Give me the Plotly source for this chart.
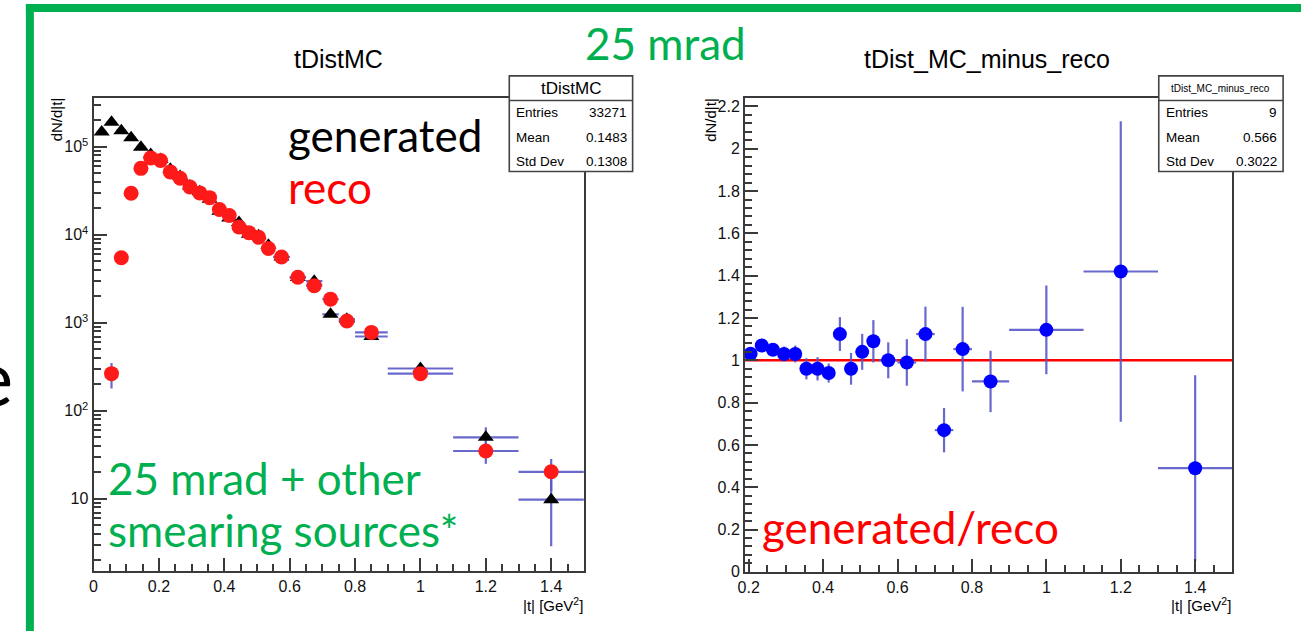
import plotly.graph_objects as go

W, H = 1301, 640

# ---------------- data ----------------
t_centers = [0.025, 0.055, 0.085, 0.115, 0.145, 0.175, 0.205, 0.235, 0.265, 0.295,
             0.325, 0.355, 0.385, 0.415, 0.445, 0.475, 0.505, 0.535, 0.575, 0.625,
             0.675, 0.725, 0.775, 0.85, 1.0, 1.2, 1.4]
t_halfwidth = [0.015, 0.015, 0.015, 0.015, 0.015, 0.015, 0.015, 0.015, 0.015, 0.015,
               0.015, 0.015, 0.015, 0.015, 0.015, 0.015, 0.015, 0.015, 0.025, 0.025,
               0.025, 0.025, 0.025, 0.05, 0.1, 0.1, 0.1]
generated = [148000, 190000, 153000, 127000, 99000, 82000, 72000, 55600, 46200, 36000,
             30900, 25400, 18600, 15600, 13800, 10200, 9800, 7600, 5600, 3270,
             2980, 1250, 1100, 700, 303, 50, 9.8]
generated_err = [0, 0, 0, 0, 0, 0, 0, 0, 0, 0,
                 0, 0, 0, 0, 0, 0, 0, 0, 0, 0,
                 0, 0, 0, 0, 0, 15, 6.9]
reco = [None, 265, 5500, 29700, 57000, 75000, 70000, 52000, 44000, 35000,
        30000, 26500, 19400, 16600, 12300, 10600, 9400, 7000, 5600, 3300,
        2650, 1860, 1050, 780, 265, 35, 20.3]
reco_err = [0, 85, 0, 0, 0, 0, 0, 0, 0, 0,
            0, 0, 0, 0, 0, 0, 0, 0, 0, 0,
            0, 0, 0, 0, 0, 10, 8]

ratio_x = [0.205, 0.235, 0.265, 0.295, 0.325, 0.355, 0.385, 0.415, 0.445, 0.475,
           0.505, 0.535, 0.575, 0.625, 0.675, 0.725, 0.775, 0.85, 1.0, 1.2, 1.4]
ratio_halfwidth = [0.015, 0.015, 0.015, 0.015, 0.015, 0.015, 0.015, 0.015, 0.015, 0.015,
                   0.015, 0.015, 0.025, 0.025, 0.025, 0.025, 0.025, 0.05, 0.1, 0.1, 0.1]
ratio = [1.031, 1.07, 1.05, 1.03, 1.03, 0.96, 0.96, 0.94, 1.124, 0.96,
         1.04, 1.09, 1.0, 0.99, 1.124, 0.67, 1.053, 0.90, 1.144, 1.42, 0.49]
ratio_err = [0.02, 0.025, 0.025, 0.035, 0.04, 0.05, 0.055, 0.045, 0.08, 0.075,
             0.085, 0.1, 0.085, 0.11, 0.13, 0.105, 0.2, 0.145, 0.21, 0.71, 0.44]
ref_level = 1.0

left_ticks = [0, 0.2, 0.4, 0.6, 0.8, 1.0, 1.2, 1.4]
left_tick_text = ["0", "0.2", "0.4", "0.6", "0.8", "1", "1.2", "1.4"]
log_ticks = [10, 100, 1000, 10000, 100000]
log_tick_text = ["10", "10<sup>2</sup>", "10<sup>3</sup>", "10<sup>4</sup>", "10<sup>5</sup>"]
log_minor = [m * 10 ** e for e in range(0, 6) for m in range(2, 10)]

stats_left = [("Entries", "33271"), ("Mean", "0.1483"), ("Std Dev", "0.1308")]
stats_right = [("Entries", "9"), ("Mean", "0.566"), ("Std Dev", "0.3022")]

# ---------------- helpers ----------------
def px(x):
    return x / W

def py(y):
    return 1 - y / H

ERR_COL = "rgba(88,88,200,0.9)"
AX_COL = "#3a3a3a"
ROOT_FONT = "Liberation Sans"
SLIDE_FONT = "Lato"

fig = go.Figure()

# left plot
fig.add_trace(go.Scatter(
    x=t_centers, y=generated, mode="markers", xaxis="x", yaxis="y",
    marker=dict(symbol="triangle-up", size=14, color="black"),
    error_x=dict(type="data", array=t_halfwidth, color=ERR_COL, thickness=2.2, width=0),
    error_y=dict(type="data", array=generated_err, color=ERR_COL, thickness=2.2, width=0),
    showlegend=False))
fig.add_trace(go.Scatter(
    x=t_centers, y=reco, mode="markers", xaxis="x", yaxis="y",
    marker=dict(symbol="circle", size=15, color="#ff1a1a"),
    error_x=dict(type="data", array=t_halfwidth, color=ERR_COL, thickness=2.2, width=0),
    error_y=dict(type="data", array=reco_err, color=ERR_COL, thickness=2.2, width=0),
    showlegend=False))

# right plot
fig.add_trace(go.Scatter(
    x=[0.19, 1.5], y=[ref_level, ref_level], mode="lines", xaxis="x2", yaxis="y2",
    line=dict(color="#ff0000", width=2.5), showlegend=False))
fig.add_trace(go.Scatter(
    x=ratio_x, y=ratio, mode="markers", xaxis="x2", yaxis="y2",
    marker=dict(symbol="circle", size=14, color="#0000ff"),
    error_x=dict(type="data", array=ratio_halfwidth, color=ERR_COL, thickness=2.2, width=0),
    error_y=dict(type="data", array=ratio_err, color=ERR_COL, thickness=2.2, width=0),
    showlegend=False))

axis_common = dict(showline=True, linecolor=AX_COL, linewidth=2, mirror=True,
                   ticks="inside", tickcolor=AX_COL, tickwidth=1.5, ticklen=13,
                   showgrid=False, zeroline=False,
                   tickfont=dict(family=ROOT_FONT, size=16, color="#111"))

fig.update_layout(
    width=W, height=H, margin=dict(l=0, r=0, t=0, b=0),
    paper_bgcolor="white", plot_bgcolor="white",
    xaxis=dict(domain=[px(87), px(580)], range=[0, 1.5], tickvals=left_ticks,
               ticktext=left_tick_text, anchor="y",
               minor=dict(ticks="inside", dtick=0.05, tick0=0, ticklen=7,
                          tickcolor=AX_COL, tickwidth=1.5),
               **axis_common),
    yaxis=dict(domain=[py(579), py(99)], type="log", range=[0.182, 5.56],
               tickvals=log_ticks, ticktext=log_tick_text, anchor="x",
               minor=dict(ticks="inside", tickmode="array", tickvals=log_minor, ticklen=7,
                          tickcolor=AX_COL, tickwidth=1.5),
               **axis_common),
    xaxis2=dict(domain=[px(742), px(1232)], range=[0.19, 1.5], tick0=0, dtick=0.2,
                anchor="y2",
                minor=dict(ticks="inside", dtick=0.05, tick0=0, ticklen=7,
                           tickcolor=AX_COL, tickwidth=1.5),
                **axis_common),
    yaxis2=dict(domain=[py(580), py(99)], range=[0, 2.242], tick0=0, dtick=0.2,
                anchor="x2",
                minor=dict(ticks="inside", dtick=0.04, tick0=0, ticklen=7,
                           tickcolor=AX_COL, tickwidth=1.5),
                **axis_common),
)

shapes = []
ann = []

def text(x, y, s, size, color="black", family=ROOT_FONT, xanchor="center", yanchor="middle", angle=0):
    ann.append(dict(x=px(x), y=py(y), xref="paper", yref="paper", text=s, showarrow=False,
                    xanchor=xanchor, yanchor=yanchor, textangle=angle,
                    font=dict(family=family, size=size, color=color)))

# green slide frame
shapes.append(dict(type="line", xref="paper", yref="paper", x0=px(19), x1=px(1301),
                   y0=py(8), y1=py(8), line=dict(color="#00b050", width=8)))
shapes.append(dict(type="line", xref="paper", yref="paper", x0=px(23), x1=px(23),
                   y0=py(4), y1=py(640), line=dict(color="#00b050", width=8)))

# stats boxes
def stats_box(x0, x1, title, rows, title_size):
    shapes.append(dict(type="rect", xref="paper", yref="paper", x0=px(x0), x1=px(x1),
                       y0=py(77), y1=py(174), line=dict(color="#444", width=1.6),
                       fillcolor="white", layer="above"))
    shapes.append(dict(type="line", xref="paper", yref="paper", x0=px(x0), x1=px(x1),
                       y0=py(102), y1=py(102), line=dict(color="#444", width=1.6),
                       layer="above"))
    text((x0 + x1) / 2, 90, title, title_size)
    for i, (k, v) in enumerate(rows):
        yy = 114 + 25 * i
        text(x0 + 5, yy, k, 13.5, xanchor="left")
        text(x1 - 4, yy, v, 13.5, xanchor="right")

stats_box(505, 629, "tDistMC", stats_left, 17)
stats_box(1158, 1283, "tDist_MC_minus_reco", stats_right, 10)

# titles
text(333, 60, "tDistMC", 25)
text(985, 60, "tDist_MC_minus_reco", 25)

# axis titles
text(50, 97, "dN/d|t|", 15, yanchor="top", angle=-90)
text(707, 97, "dN/d|t|", 15, yanchor="top", angle=-90)
text(581, 613, "|t| [GeV<sup>2</sup>]", 15, xanchor="right")
text(1233, 613, "|t| [GeV<sup>2</sup>]", 15, xanchor="right")

# slide texts
text(662, 44, "25 mrad", 44, color="#00b050", family=SLIDE_FONT)
text(281, 137, "generated", 44, color="black", family=SLIDE_FONT, xanchor="left")
text(281, 190, "reco", 44, color="#ff0000", family=SLIDE_FONT, xanchor="left")
text(100, 485, "25 mrad + other", 44, color="#00b050", family=SLIDE_FONT, xanchor="left")
text(100, 538, "smearing sources*", 44, color="#00b050", family=SLIDE_FONT, xanchor="left")
text(757, 535, "generated/reco", 44, color="#ff0000", family=SLIDE_FONT, xanchor="left")
text(8, 381, "e", 78, color="black", family=SLIDE_FONT, xanchor="right")

fig.update_layout(shapes=shapes, annotations=ann)
fig.write_html("out.html", config={"displayModeBar": False},
               post_script="document.body.style.margin='0';document.body.style.overflow='hidden';")
